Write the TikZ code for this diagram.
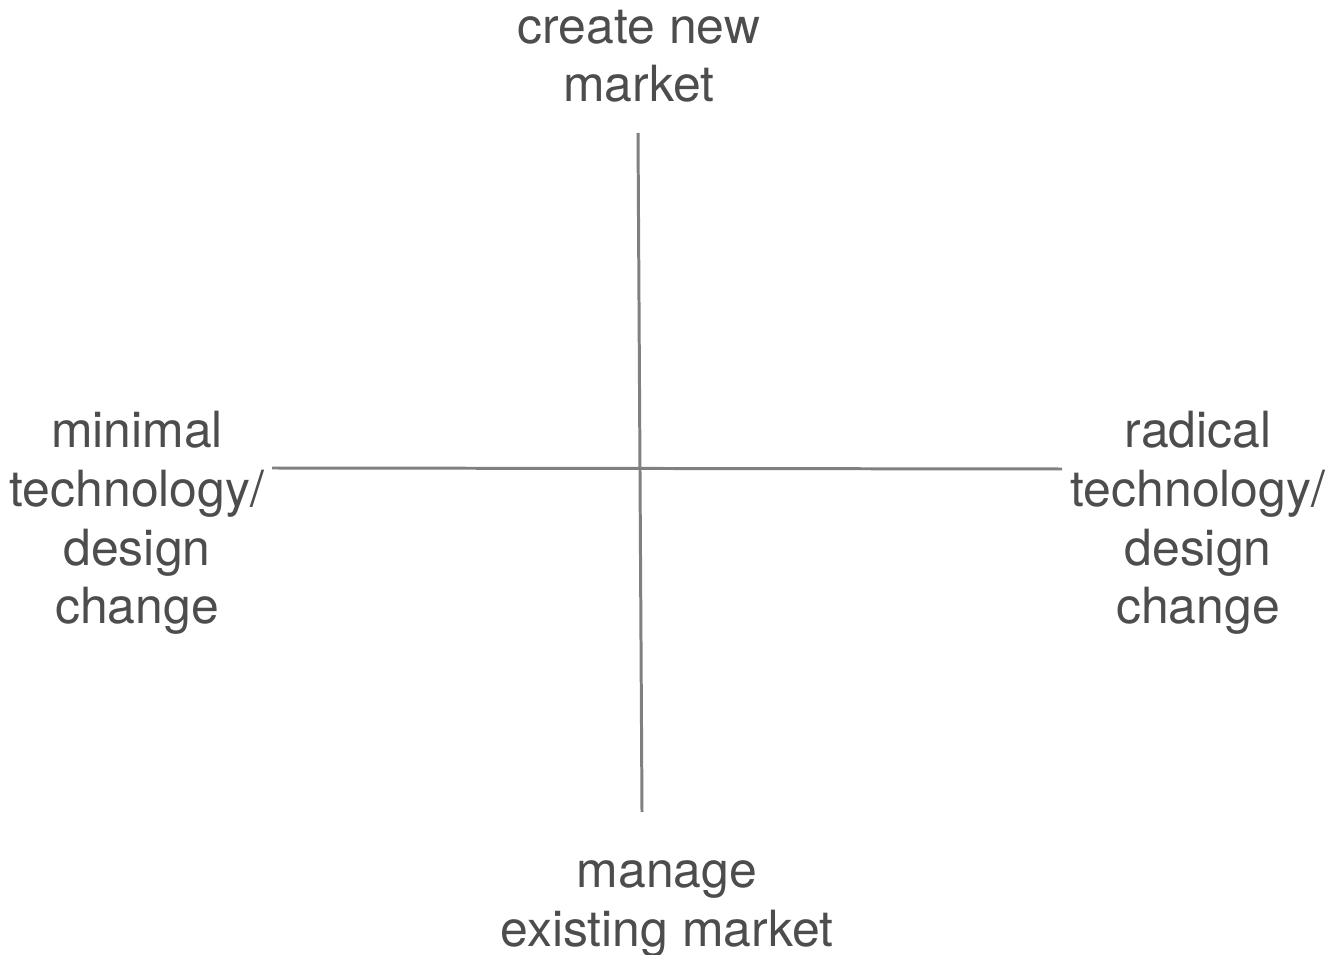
\documentclass[tikz,border=0pt]{standalone}
\usepackage{fontspec}
\setmainfont{TeX Gyre Heros}
\usepackage{xcolor}
\definecolor{colorLabel}{HTML}{4D4D4D}
\definecolor{colorAxis}{HTML}{808080}
\usepackage{tikz}
\usetikzlibrary{positioning}
\tikzset{axislabel/.style={align=center, inner sep=0pt, text=colorLabel, font=\fontsize{28.4}{33.3}\selectfont},
axisline/.style={draw=colorAxis, line width=1.7pt}}

\begin{document}
\begin{tikzpicture}[x=0.02cm, y=-0.02cm]
\useasboundingbox (0,0) rectangle (1338,955);
\node[axislabel] (newmkt) at (639,56) {create new\\market};
\node[axislabel] (oldmkt) at (667,909) {manage\\existing market};
\node[axislabel] (minchg) at (137,523) {minimal\\technology/\\design\\change};
\node[axislabel] (radchg) at (1198,523) {radical\\technology/\\design\\change};
\coordinate (vtop) at (638,133);
\coordinate (vbot) at (642,812);
\coordinate (hleft) at (272,468);
\coordinate (hright) at (1062,469);
\draw[axisline] (vtop) -- (vbot);
\draw[axisline] (hleft) -- (hright);
\end{tikzpicture}
\end{document}
